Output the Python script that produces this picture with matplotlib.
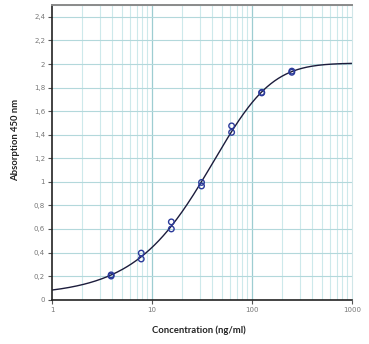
import numpy as np
import matplotlib
matplotlib.use("Agg")
import matplotlib.pyplot as plt
from matplotlib.ticker import FixedLocator, NullFormatter

# ---- data ----
conc = [3.9, 3.9, 7.8, 7.8, 15.6, 15.6, 31.25, 31.25, 62.5, 62.5, 125, 125, 250, 250]
absorb = [0.20, 0.21, 0.395, 0.345, 0.66, 0.60, 0.995, 0.965, 1.475, 1.42, 1.755, 1.76, 1.93, 1.94]

x_ticks = [1, 10, 100, 1000]
x_tick_labels = ["1", "10", "100", "1000"]
y_ticks = [0, 0.2, 0.4, 0.6, 0.8, 1.0, 1.2, 1.4, 1.6, 1.8, 2.0, 2.2, 2.4]
y_tick_labels = ["0", "0,2", "0,4", "0,6", "0,8", "1", "1,2", "1,4", "1,6", "1,8", "2", "2,2", "2,4"]

# ---- 5-parameter logistic fit of the standard points ----
xd = np.array(conc, float)
yd = np.array(absorb, float)
Bs = np.linspace(0.6, 3.0, 49)
Cs = np.logspace(np.log10(5), np.log10(300), 80)
Gs = np.linspace(0.15, 3.0, 58)
best = None
for G in Gs:
    Bg, Cg = np.meshgrid(Bs, Cs, indexing="ij")
    f = 1.0 / (1.0 + (xd[None, None, :] / Cg[..., None]) ** Bg[..., None]) ** G
    s_ff = (f * f).sum(-1)
    s_f1 = (f * (1 - f)).sum(-1)
    s_11 = ((1 - f) ** 2).sum(-1)
    s_yf = (yd * f).sum(-1)
    s_y1 = (yd * (1 - f)).sum(-1)
    det = s_ff * s_11 - s_f1 ** 2
    A = (s_yf * s_11 - s_y1 * s_f1) / det
    D = (s_ff * s_y1 - s_f1 * s_yf) / det
    pred = D[..., None] * (1 - f) + A[..., None] * f
    sse = ((pred - yd) ** 2).sum(-1)
    i = np.unravel_index(np.nanargmin(sse), sse.shape)
    if best is None or sse[i] < best[0]:
        best = (sse[i], A[i], D[i], Bg[i], Cg[i], G)
_, pA, pD, pB, pC, pG = best
xc = np.logspace(0, 3, 400)
yc = pD + (pA - pD) / (1 + (xc / pC) ** pB) ** pG

# ---- figure ----
fig = plt.figure(figsize=(3.69, 3.44), dpi=100)
ax = fig.add_axes([0.141, 0.129, 0.813, 0.856])
ax.set_xscale("log")
ax.set_xlim(1, 1000)
ax.set_ylim(0, 2.5)

minor_x = [m * 10 ** e for e in range(3) for m in range(2, 10)]
for xv in minor_x:
    ax.axvline(xv, color="#cde9eb", lw=0.8, zorder=0)
for xv in x_ticks[1:-1]:
    ax.axvline(xv, color="#9dcdd1", lw=0.9, zorder=0)
for yv in y_ticks[1:] + [2.5]:
    ax.axhline(yv, color="#b3d8db", lw=0.8, zorder=0)

ax.plot(xc, yc, color="#1c1c3c", lw=1.0, zorder=2)
ax.scatter(conc, absorb, s=16, facecolors="none", edgecolors="#2b3a9a", linewidths=1.0, zorder=3)

ax.xaxis.set_major_locator(FixedLocator(x_ticks))
ax.set_xticklabels(x_tick_labels)
ax.xaxis.set_minor_formatter(NullFormatter())
ax.tick_params(axis="x", which="minor", length=0)
ax.set_yticks(y_ticks)
ax.set_yticklabels(y_tick_labels)
ax.tick_params(axis="both", which="major", labelsize=5, labelcolor="#777777", length=3, width=0.8, color="#555555", pad=2)

for s in ["left", "bottom"]:
    ax.spines[s].set_color("#222222")
    ax.spines[s].set_linewidth(1.2)
ax.spines["top"].set_color("#8a8a8a")
ax.spines["top"].set_linewidth(1.4)
ax.spines["right"].set_color("#d0e6e8")
ax.spines["right"].set_linewidth(0.8)

fig.text(199 / 369, 1 - 330 / 344, "Concentration (ng/ml)", fontsize=6.8, fontweight="bold",
         family="Lato", color="#222222", ha="center", va="center")
fig.text(16 / 369, 1 - 140 / 344, "Absorption 450 nm", fontsize=6.8, fontweight="bold",
         family="Lato", color="#222222", ha="center", va="center", rotation=90)

fig.savefig("out.png", dpi=100)
